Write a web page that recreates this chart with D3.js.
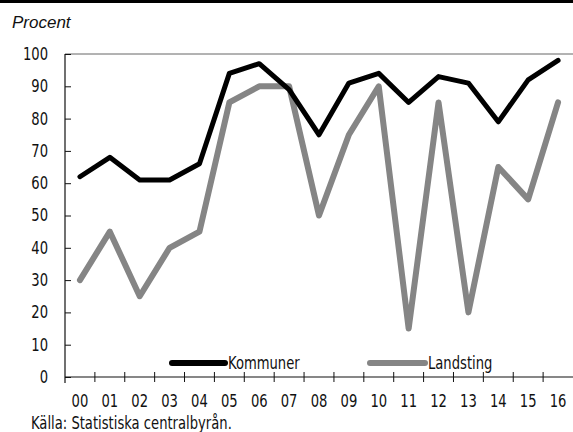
<!DOCTYPE html>
<html>
<head>
<meta charset="utf-8">
<script src="https://cdn.jsdelivr.net/npm/d3@7"></script>
<style>
  body { margin: 0; background: #fff; }
  svg { display: block; }
  text { font-family: "DejaVu Sans Condensed", "Liberation Sans Narrow", sans-serif; fill: #111; }
  text.plain { font-family: "Liberation Sans", Arial, sans-serif; }
</style>
</head>
<body>
<svg id="chart" width="573" height="432"></svg>
<script>
// Andel (procent) per år
const years = ["00","01","02","03","04","05","06","07","08","09","10","11","12","13","14","15","16"];
const kommuner = [62, 68, 61, 61, 66, 94, 97, 89, 75, 91, 94, 85, 93, 91, 79, 92, 98];
const landsting = [30, 45, 25, 40, 45, 85, 90, 90, 50, 75, 90, 15, 85, 20, 65, 55, 85];
const yTicks = [0, 10, 20, 30, 40, 50, 60, 70, 80, 90, 100];

const W = 573, H = 432;
const m = { left: 65, right: 0, top: 54, bottom: 55 };
const svg = d3.select("#chart");
const NARROW = 0.86;

const x = d3.scaleBand().domain(years).range([m.left, W - m.right]).padding(0);
const y = d3.scaleLinear().domain([0, 100]).range([H - m.bottom, m.top]);

// narrow text: placed in a group and squeezed horizontally
function narrowText(parent, px, py, str, opts = {}) {
  const g = parent.append("g").attr("transform", `translate(${px},${py}) scale(${NARROW},1)`);
  return g.append("text")
    .attr("font-size", opts.size || 17)
    .attr("text-anchor", opts.anchor || "start")
    .attr("dy", opts.dy || null)
    .text(str);
}

// top rule
svg.append("rect").attr("x", 0).attr("y", 0).attr("width", W).attr("height", 3).attr("fill", "#000");

// unit label
svg.append("text").attr("class", "plain").attr("x", 12).attr("y", 28).attr("font-size", 17)
  .attr("font-style", "italic").text("Procent");

// top frame line at 100
svg.append("line").attr("x1", m.left).attr("x2", W).attr("y1", y(100)).attr("y2", y(100))
  .attr("stroke", "#666").attr("stroke-width", 1);

// y axis
const yAxis = svg.append("g").attr("transform", `translate(${m.left},0)`)
  .call(d3.axisRight(y).tickValues(yTicks).tickSize(6).tickFormat(""));
yAxis.select(".domain").remove();
yAxis.selectAll(".tick line").attr("stroke", "#111");
svg.append("line").attr("x1", m.left).attr("x2", m.left).attr("y1", y(100)).attr("y2", y(0) + 6)
  .attr("stroke", "#111").attr("stroke-width", 1.2);
yTicks.forEach(d => narrowText(svg, 48, y(d), d, { anchor: "end", dy: "0.35em" }));

// x axis with ticks between categories
svg.append("line").attr("x1", m.left).attr("x2", W).attr("y1", y(0)).attr("y2", y(0))
  .attr("stroke", "#111").attr("stroke-width", 1.2);
svg.selectAll(".xtick").data(years.slice(1)).enter().append("line")
  .attr("x1", d => x(d)).attr("x2", d => x(d))
  .attr("y1", y(0) - 5).attr("y2", y(0) + 5)
  .attr("stroke", "#111").attr("stroke-width", 1);
years.forEach(d => narrowText(svg, x(d) + x.bandwidth() / 2, y(0) + 30, d, { anchor: "middle" }));

// lines
const line = d3.line().x((d, i) => x(years[i]) + x.bandwidth() / 2).y(d => y(d));
svg.append("path").datum(landsting).attr("d", line).attr("fill", "none")
  .attr("stroke", "#858585").attr("stroke-width", 6)
  .attr("stroke-linejoin", "round").attr("stroke-linecap", "round");
svg.append("path").datum(kommuner).attr("d", line).attr("fill", "none")
  .attr("stroke", "#000").attr("stroke-width", 5)
  .attr("stroke-linejoin", "round").attr("stroke-linecap", "round");

// legend
const legend = [
  { name: "Kommuner", color: "#000", x1: 172, x2: 225 },
  { name: "Landsting", color: "#858585", x1: 370, x2: 425 }
];
const ly = 363;
legend.forEach(l => {
  svg.append("line").attr("x1", l.x1).attr("x2", l.x2).attr("y1", ly).attr("y2", ly)
    .attr("stroke", l.color).attr("stroke-width", 6).attr("stroke-linecap", "round");
  narrowText(svg, l.x2 + 3, ly, l.name, { dy: "0.35em" });
});

// source
narrowText(svg, 31, 429, "Källa: Statistiska centralbyrån.", { size: 17 });
</script>
</body>
</html>
